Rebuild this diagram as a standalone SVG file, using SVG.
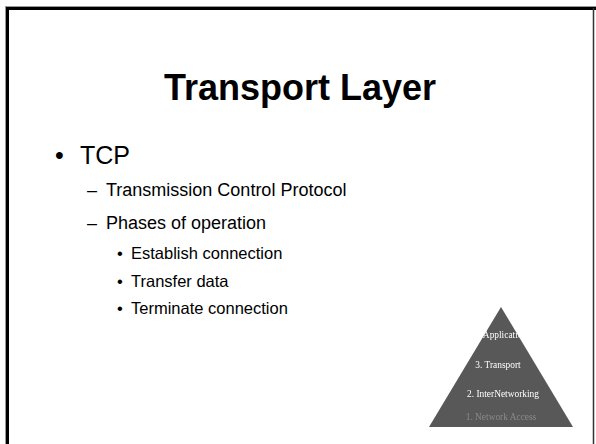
<svg xmlns="http://www.w3.org/2000/svg" width="596" height="444" viewBox="0 0 596 444">
  <style>
    .title { font-family: "Liberation Sans", Arial, sans-serif; font-weight: bold; font-size: 36px; fill: #000; }
    .body { font-family: "Liberation Sans", Arial, sans-serif; fill: #000; }
    .l1 { font-size: 25px; }
    .l2 { font-size: 18px; }
    .l3 { font-size: 16.5px; }
    .pyr { font-family: "Liberation Serif", "Times New Roman", serif; font-size: 9.4px; text-anchor: middle; }
  </style>
  <defs>
    <clipPath id="pyrClip">
      <polygon points="501,307 573,427 429,427"/>
    </clipPath>
    <filter id="soft" x="-5%" y="-5%" width="110%" height="110%">
      <feGaussianBlur stdDeviation="0.45"/>
    </filter>
  </defs>
  <rect width="596" height="444" fill="#fff"/>

  <!-- slide frame -->
  <g id="frame">
    <line x1="5.5" y1="6" x2="5.5" y2="444" stroke="#999" stroke-width="1"/>
    <line x1="5" y1="6.5" x2="596" y2="6.5" stroke="#999" stroke-width="1"/>
    <line x1="7.5" y1="7" x2="7.5" y2="444" stroke="#000" stroke-width="3"/>
    <line x1="6" y1="8.5" x2="596" y2="8.5" stroke="#000" stroke-width="3"/>
    <line x1="593.5" y1="8" x2="593.5" y2="444" stroke="#333" stroke-width="1.5"/>
  </g>

  <g id="title">
    <text class="title" x="300" y="100" text-anchor="middle">Transport Layer</text>
  </g>

  <g id="bullets" class="body">
    <text class="l1" x="55" y="164">•</text>
    <text class="l1" x="80" y="164">TCP</text>
    <text class="l2" x="87" y="195.5">–</text>
    <text class="l2" x="106" y="195.5">Transmission Control Protocol</text>
    <text class="l2" x="87" y="228.5">–</text>
    <text class="l2" x="106" y="228.5">Phases of operation</text>
    <text class="l3" x="117" y="259">•</text>
    <text class="l3" x="131" y="259">Establish connection</text>
    <text class="l3" x="117" y="287">•</text>
    <text class="l3" x="131" y="287">Transfer data</text>
    <text class="l3" x="117" y="314">•</text>
    <text class="l3" x="131" y="314">Terminate connection</text>
  </g>

  <!-- layered protocol pyramid -->
  <g id="pyramid" filter="url(#soft)">
    <polygon points="501,307 573,427 429,427" fill="#585858"/>
    <g clip-path="url(#pyrClip)">
      <text class="pyr" x="505" y="338" fill="#fff">Application</text>
      <text class="pyr" x="498" y="368" fill="#fff">3. Transport</text>
      <text class="pyr" x="503" y="397" fill="#fff">2. InterNetworking</text>
      <text class="pyr" x="501" y="420" fill="#8a8a8a">1. Network Access</text>
    </g>
  </g>
</svg>
